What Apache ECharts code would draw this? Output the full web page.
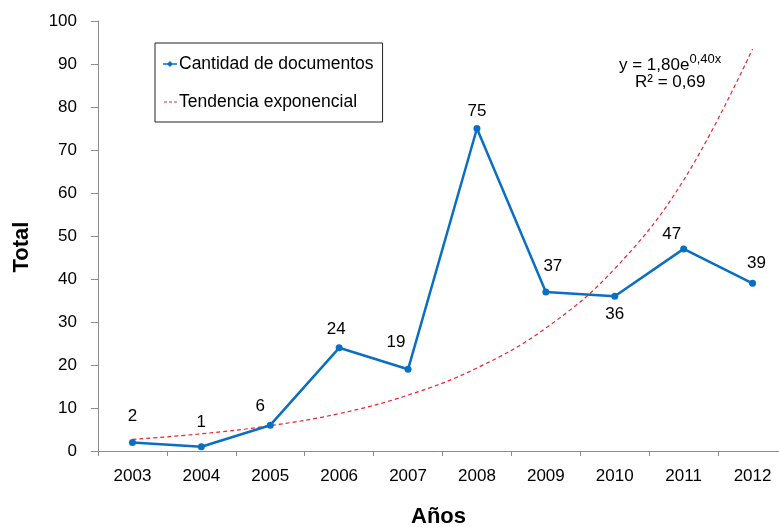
<!DOCTYPE html>
<html>
<head>
<meta charset="utf-8">
<script src="https://cdn.jsdelivr.net/npm/echarts@6/dist/echarts.min.js"></script>
<style>
html,body{margin:0;padding:0;background:#fff;}
#chart{width:779px;height:527px;}
</style>
</head>
<body>
<div id="chart"></div>
<script>
// ---- data ----
const years = ['2003','2004','2005','2006','2007','2008','2009','2010','2011','2012'];
const documentos = [2, 1, 6, 24, 19, 75, 37, 36, 47, 39];
const tendencia = [2.7, 4.0, 5.9, 8.7, 13.0, 19.3, 28.6, 42.4, 63.0, 93.5];
const yTicks = { min: 0, max: 100, interval: 10 };
const seriesNames = ['Cantidad de documentos', 'Tendencia exponencial'];

// ---- layout (label nudges, px) ----
const labelNudge = [[0,-9],[0,-7],[-10,-2],[-3,-1],[-12,-10],[0,0],[7,-9],null,[-12,2],[4,-3]];

const font = 'Liberation Sans, Arial, sans-serif';
const blue = '#0A6FC2';
const red = '#E8262B';

// legend icons (corner specks fix the bounding box to 14x7)
const specks = 'M0,0h0.01v0.01h-0.01z M13.99,6.99h0.01v0.01h-0.01z ';
const iconDoc = 'path://' + specks + 'M0,2.8h14v1.4h-14z M7,0.4 L10.1,3.5 L7,6.6 L3.9,3.5z';
const iconTrend = 'path://' + specks + 'M1,3h3v1h-3z M6,3h3v1h-3z M11,3h3v1h-3z';

const docData = documentos.map((v, i) => {
  const d = { value: v };
  if (labelNudge[i] === null) {
    d.label = { position: 'bottom', distance: 6 };
  } else {
    d.label = { offset: labelNudge[i] };
  }
  return d;
});

const chart = echarts.init(document.getElementById('chart'), null, { renderer: 'canvas' });
chart.setOption({
  animation: false,
  backgroundColor: '#fff',
  textStyle: { fontFamily: font },
  grid: { left: 98, top: 21, width: 689, height: 430, containLabel: false, outerBoundsMode: 'none' },
  legend: {
    orient: 'vertical',
    left: 155, top: 43,
    padding: [12, 9, 11, 8],
    itemGap: 20,
    itemWidth: 14, itemHeight: 7,
    borderColor: '#222', borderWidth: 1,
    textStyle: { fontSize: 17.5, color: '#000', fontFamily: font, padding: [0,0,0,-3] },
    data: [
      { name: seriesNames[0], icon: iconDoc, itemStyle: { color: blue } },
      { name: seriesNames[1], icon: iconTrend, itemStyle: { color: red } }
    ]
  },
  xAxis: {
    type: 'category',
    data: years,
    boundaryGap: true,
    axisLine: { lineStyle: { color: '#8c8c8c', width: 1 } },
    axisTick: { show: true, length: 5, inside: false, alignWithLabel: false, lineStyle: { color: '#8c8c8c' } },
    axisLabel: { color: '#000', fontSize: 17, margin: 17, fontFamily: font },
    name: 'Años',
    nameLocation: 'middle',
    nameGap: 55,
    nameTextStyle: { fontSize: 22, fontWeight: 'bold', color: '#000', fontFamily: font, padding: [0, 8, 0, 0] }
  },
  yAxis: {
    type: 'value',
    min: yTicks.min, max: yTicks.max, interval: yTicks.interval,
    splitLine: { show: false },
    axisLine: { show: true, lineStyle: { color: '#8c8c8c', width: 1 } },
    axisTick: { show: true, length: 7, lineStyle: { color: '#8c8c8c' } },
    axisLabel: { color: '#000', fontSize: 17, margin: 21, fontFamily: font },
    name: 'Total',
    nameLocation: 'middle',
    nameGap: 65,
    nameRotate: 90,
    nameTextStyle: { fontSize: 22, fontWeight: 'bold', color: '#000', fontFamily: font, padding: [0, 22, 0, 0] }
  },
  series: [
    {
      name: seriesNames[0],
      type: 'line',
      data: docData,
      z: 3,
      symbol: 'circle',
      symbolSize: 7,
      itemStyle: { color: blue },
      lineStyle: { color: blue, width: 2.5 },
      label: { show: true, position: 'top', distance: 5, fontSize: 17, color: '#000', fontFamily: font }
    },
    {
      name: seriesNames[1],
      type: 'line',
      data: tendencia,
      z: 2,
      smooth: 0.4,
      showSymbol: false,
      symbol: 'none',
      itemStyle: { color: red },
      lineStyle: { color: red, width: 1.2, type: [4, 3] }
    }
  ],
  graphic: [
    {
      type: 'text',
      left: 619, top: 53,
      style: {
        text: '{a|y = 1,80e}{b|0,40x}',
        rich: {
          a: { fontSize: 17, fontFamily: font, fill: '#000', lineHeight: 21, verticalAlign: 'bottom' },
          b: { fontSize: 13, fontFamily: font, fill: '#000', lineHeight: 21, verticalAlign: 'top', padding: [0,0,6,0] }
        }
      }
    },
    {
      type: 'text',
      left: 635, top: 74,
      style: { text: 'R² = 0,69', fontSize: 17, fontFamily: font, fill: '#000' }
    }
  ]
});
</script>
</body>
</html>
